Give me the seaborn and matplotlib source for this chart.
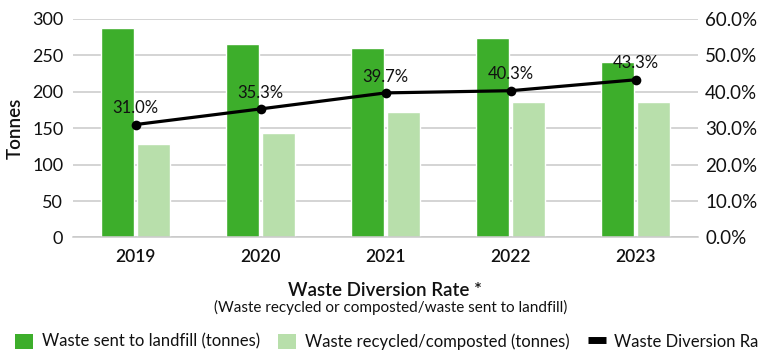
import matplotlib
matplotlib.use("Agg")
import matplotlib.pyplot as plt
from matplotlib.patches import Patch
from matplotlib.lines import Line2D
from matplotlib.ticker import FuncFormatter, MultipleLocator
import seaborn as sns
import pandas as pd

years = ["2019", "2020", "2021", "2022", "2023"]
landfill = [288, 266, 260, 274, 241]
recycled = [128, 144, 172, 186, 186]
diversion_rate = [31.0, 35.3, 39.7, 40.3, 43.3]

series_landfill = "Waste sent to landfill (tonnes)"
series_recycled = "Waste recycled/composted (tonnes)"
series_rate = "Waste Diversion Rate"

dark_green = "#3DAE2B"
light_green = "#B8DFAB"
grid_gray = "#C9C9C9"
ink = "#111111"

sns.set_theme(style="white")
plt.rcParams["font.family"] = ["Lato", "DejaVu Sans"]

df = pd.DataFrame({
    "Year": years * 2,
    "Tonnes": landfill + recycled,
    "Series": [series_landfill] * len(years) + [series_recycled] * len(years),
})

fig = plt.figure(figsize=(7.58, 3.56), dpi=100)
ax = fig.add_axes([0.0963, 0.333, 0.8247, 0.6137])

sns.barplot(data=df, x="Year", y="Tonnes", hue="Series",
            palette=[dark_green, light_green], width=0.58, gap=0.1,
            saturation=1, ax=ax, legend=False)

ax.set_ylim(0, 300)
ax.set_xlim(-0.5, len(years) - 0.5)
ax.yaxis.set_major_locator(MultipleLocator(50))
ax.grid(axis="y", color=grid_gray, linewidth=1.1)
ax.set_axisbelow(True)
for side in ["top", "right", "left"]:
    ax.spines[side].set_visible(False)
ax.spines["bottom"].set_color(grid_gray)
ax.spines["bottom"].set_linewidth(1.1)
ax.tick_params(axis="y", length=0, labelsize=13, pad=7, colors=ink)
ax.tick_params(axis="x", length=0, labelsize=12.5, pad=8, colors=ink)
for lbl in ax.get_xticklabels():
    lbl.set_fontweight("semibold")
ax.set_ylabel("Tonnes", fontsize=13.5, fontweight="semibold", color=ink, labelpad=6)
ax.set_xlabel("")

ax2 = ax.twinx()
rate_df = pd.DataFrame({"Year": years, "Rate": diversion_rate})
sns.lineplot(data=rate_df, x="Year", y="Rate", color="black", linewidth=2.3,
             marker="o", markersize=7, markeredgewidth=0, ax=ax2, sort=False)
ax2.set_ylim(0, 60)
ax2.yaxis.set_major_locator(MultipleLocator(10))
ax2.yaxis.set_major_formatter(FuncFormatter(lambda v, _: f"{v:.1f}%"))
ax2.tick_params(axis="y", length=0, labelsize=13.5, pad=5, colors=ink)
ax2.set_ylabel("")
ax2.set_xlabel("")
for side in ["top", "right", "left", "bottom"]:
    ax2.spines[side].set_visible(False)
ax2.grid(False)

for i, v in enumerate(diversion_rate):
    ax2.annotate(f"{v:.1f}%", (i, v), xytext=(0, 6), textcoords="offset points",
                 ha="center", va="bottom", fontsize=12, color=ink)

fig.text(0.508, 0.183, "Waste Diversion Rate *", ha="center", va="center",
         fontsize=13.5, fontweight="semibold", color=ink)
fig.text(0.516, 0.135, "(Waste recycled or composted/waste sent to landfill)",
         ha="center", va="center", fontsize=11, color=ink)

handles = [
    Patch(facecolor=dark_green, edgecolor="none"),
    Patch(facecolor=light_green, edgecolor="none"),
    Line2D([0], [0], color="black", linewidth=5, solid_capstyle="butt"),
]
fig.legend(handles, [series_landfill, series_recycled, series_rate],
           loc="lower left", bbox_to_anchor=(0.0, -0.025), ncol=3, frameon=False,
           handlelength=1.1, handleheight=1.0, handletextpad=0.5,
           columnspacing=1.1, borderaxespad=0.5, prop={"size": 12})
for t in fig.legends[0].get_texts():
    t.set_color(ink)

fig.savefig("out.png", dpi=100)
